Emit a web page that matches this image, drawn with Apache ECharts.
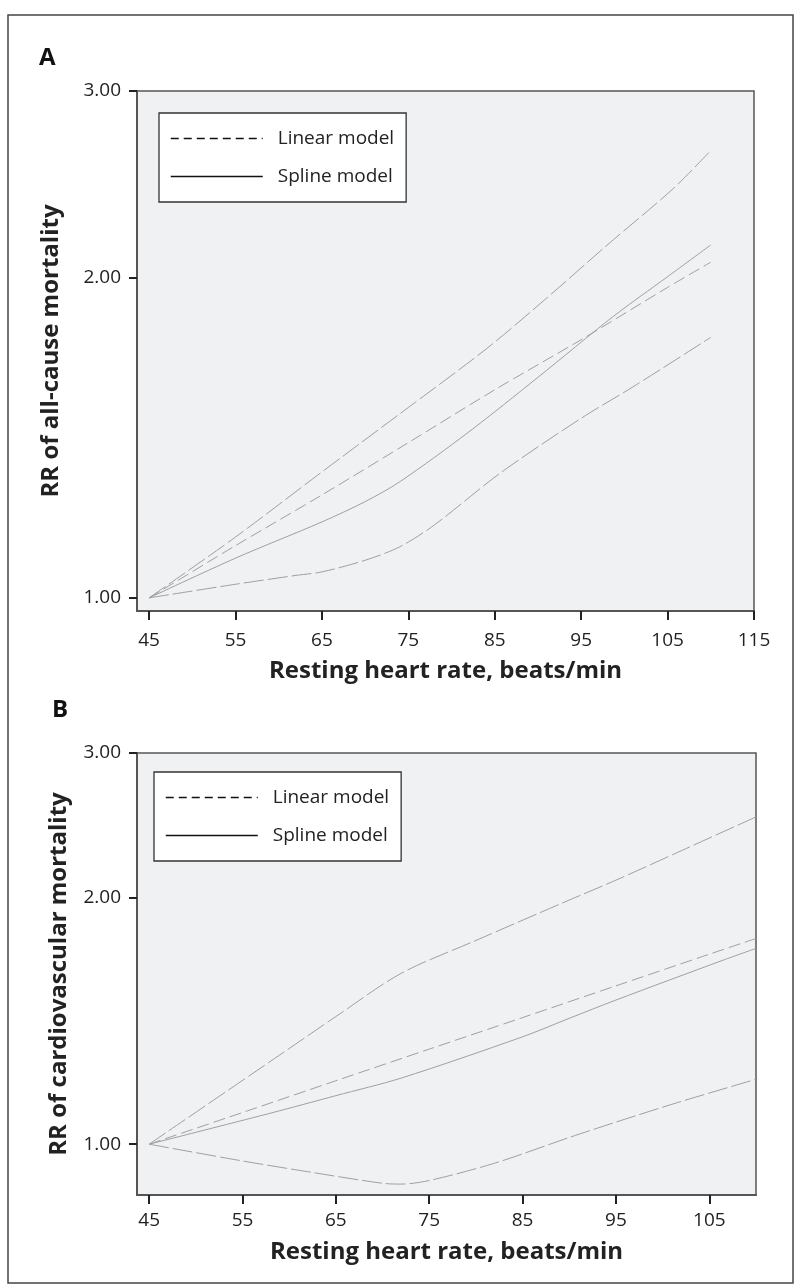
<!DOCTYPE html>
<html>
<head>
<meta charset="utf-8">
<script src="https://cdn.jsdelivr.net/npm/echarts@6/dist/echarts.min.js"></script>
<style>
html,body{margin:0;padding:0;background:#fff;}
#chart{width:794px;height:1284px;}
</style>
</head>
<body>
<div id="chart"></div>
<script>
// ---------- tick labels ----------
const xTicksA = [45, 55, 65, 75, 85, 95, 105, 115];
const xTicksB = [45, 55, 65, 75, 85, 95, 105];
const yTicks = [1, 2, 3];

// ---------- Panel A: all-cause mortality ----------
const upperA_hr = [45, 55, 65, 74, 84, 91, 98, 105.7, 110];
const upperA_rr = [1.00, 1.141, 1.314, 1.490, 1.715, 1.915, 2.148, 2.430, 2.637];
const linearA_hr = [45, 55, 65, 75, 85, 95, 105, 110];
const linearA_rr = [1.00, 1.12, 1.25, 1.40, 1.57, 1.75, 1.96, 2.07];
const splineA_hr = [45, 55, 65, 70, 74, 82, 90, 98.7, 105, 110];
const splineA_rr = [1.00, 1.09, 1.179, 1.232, 1.286, 1.433, 1.613, 1.840, 2.006, 2.149];
const lowerA_hr = [45, 55, 62, 65, 70, 74, 78, 85.6, 95, 101, 110];
const lowerA_rr = [1.00, 1.030, 1.050, 1.058, 1.085, 1.117, 1.171, 1.310, 1.476, 1.580, 1.759];

// ---------- Panel B: cardiovascular mortality ----------
const upperB_hr = [45, 59, 65, 72, 80, 90, 95, 102, 110];
const upperB_rr = [1.00, 1.285, 1.431, 1.616, 1.772, 1.985, 2.099, 2.280, 2.507];
const linearB_hr = [45, 55, 65, 75, 85, 95, 105, 110];
const linearB_rr = [1.00, 1.093, 1.195, 1.306, 1.427, 1.560, 1.705, 1.782];
const splineB_hr = [45, 58, 65, 72, 85, 90, 95, 106.5, 110];
const splineB_rr = [1.00, 1.091, 1.146, 1.204, 1.352, 1.424, 1.499, 1.677, 1.733];
const lowerB_hr = [45, 55, 62.4, 70, 72, 75, 82, 90, 95, 101.6, 110];
const lowerB_rr = [1.00, 0.954, 0.924, 0.896, 0.894, 0.903, 0.948, 1.019, 1.064, 1.124, 1.200];

const pair = (xs, ys) => xs.map((x, i) => [x, ys[i]]);

const FONT = '"Open Sans", "Noto Sans", sans-serif';
const LINE_COLOR = '#a0a0a0';
const AXIS_COLOR = '#555';
const TEXT_COLOR = '#222';

function xAxisFor(gridIndex, min, max, ticks, labelMargin, nameGap) {
  return {
    type: 'value', gridIndex, min, max,
    axisLine: {show: true, onZero: false, lineStyle: {color: AXIS_COLOR, width: 2}},
    axisTick: {show: true, length: 9, customValues: ticks, lineStyle: {color: TEXT_COLOR, width: 2}},
    axisLabel: {customValues: ticks, margin: labelMargin, fontSize: 19, color: TEXT_COLOR, fontFamily: FONT},
    splitLine: {show: false},
    name: 'Resting heart rate, beats/min',
    nameLocation: 'middle', nameGap,
    nameTextStyle: {fontSize: 24, fontWeight: 'bold', color: TEXT_COLOR, fontFamily: FONT}
  };
}
function yAxisFor(gridIndex, min, name, nameGap) {
  return {
    type: 'log', logBase: 10, gridIndex, min, max: 3,
    axisLine: {show: true, onZero: false, lineStyle: {color: AXIS_COLOR, width: 2}},
    axisTick: {show: true, length: 8, customValues: yTicks, lineStyle: {color: TEXT_COLOR, width: 2}},
    axisLabel: {customValues: yTicks, margin: 16, fontSize: 19, color: TEXT_COLOR, fontFamily: FONT,
      formatter: v => Number(v).toFixed(2)},
    splitLine: {show: false},
    minorTick: {show: false},
    name, nameLocation: 'middle', nameGap,
    nameTextStyle: {fontSize: 24, fontWeight: 'bold', color: TEXT_COLOR, fontFamily: FONT}
  };
}
function lineSeries(name, idx, data, type) {
  return {
    name, type: 'line', xAxisIndex: idx, yAxisIndex: idx,
    data, symbol: 'none', smooth: 0.3, silent: true,
    lineStyle: {color: LINE_COLOR, width: 1, type},
    itemStyle: {color: LINE_COLOR},
    emphasis: {disabled: true}
  };
}
function legendFor(left, top) {
  return {
    left, top, orient: 'vertical', selectedMode: false,
    data: [
      {name: 'Linear model', lineStyle: {color: '#111', width: 1.5, type: [8, 5]}, itemStyle: {opacity: 0}},
      {name: 'Spline model', lineStyle: {color: '#111', width: 1.5, type: 'solid'}, itemStyle: {opacity: 0}}
    ],
    itemWidth: 92, itemHeight: 14, itemGap: 19,
    padding: [16, 12, 16, 11],
    borderColor: '#333', borderWidth: 1.3, backgroundColor: '#fff',
    textStyle: {fontSize: 19, color: TEXT_COLOR, fontFamily: FONT, padding: [0, 0, 0, 10]}
  };
}

const chart = echarts.init(document.getElementById('chart'), null, {renderer: 'canvas'});
chart.setOption({
  backgroundColor: '#fff',
  animation: false,
  textStyle: {fontFamily: FONT},
  title: [
    {text: 'A', left: 39, top: 46, padding: 0, textStyle: {fontSize: 24, fontWeight: 'bold', color: '#111', fontFamily: FONT}},
    {text: 'B', left: 52, top: 698, padding: 0, textStyle: {fontSize: 24, fontWeight: 'bold', color: '#111', fontFamily: FONT}}
  ],
  graphic: [
    {type: 'rect', silent: true, z: -10,
     shape: {x: 8, y: 15, width: 785, height: 1268},
     style: {fill: 'none', stroke: '#444', lineWidth: 1.5}}
  ],
  legend: [legendFor(159, 113), legendFor(154, 772)],
  grid: [
    {left: 137, top: 91, width: 617, height: 520, show: true, backgroundColor: '#f0f1f3', borderColor: AXIS_COLOR, borderWidth: 1.5, containLabel: false},
    {left: 137, top: 753, width: 619, height: 442, show: true, backgroundColor: '#f0f1f3', borderColor: AXIS_COLOR, borderWidth: 1.5, containLabel: false}
  ],
  xAxis: [
    xAxisFor(0, 43.6, 115, xTicksA, 20, 48),
    xAxisFor(1, 43.7, 110, xTicksB, 16, 45)
  ],
  yAxis: [
    yAxisFor(0, 0.972, 'RR of all-cause mortality', 74),
    yAxisFor(1, 0.867, 'RR of cardiovascular mortality', 66)
  ],
  series: [
    lineSeries('Upper CI (all-cause)', 0, pair(upperA_hr, upperA_rr), [20, 4]),
    lineSeries('Linear model', 0, pair(linearA_hr, linearA_rr), [12, 5]),
    lineSeries('Spline model', 0, pair(splineA_hr, splineA_rr), 'solid'),
    lineSeries('Lower CI (all-cause)', 0, pair(lowerA_hr, lowerA_rr), [20, 4]),
    lineSeries('Upper CI (cardiovascular)', 1, pair(upperB_hr, upperB_rr), [20, 4]),
    lineSeries('Linear model', 1, pair(linearB_hr, linearB_rr), [12, 5]),
    lineSeries('Spline model', 1, pair(splineB_hr, splineB_rr), 'solid'),
    lineSeries('Lower CI (cardiovascular)', 1, pair(lowerB_hr, lowerB_rr), [20, 4])
  ]
});
</script>
</body>
</html>
